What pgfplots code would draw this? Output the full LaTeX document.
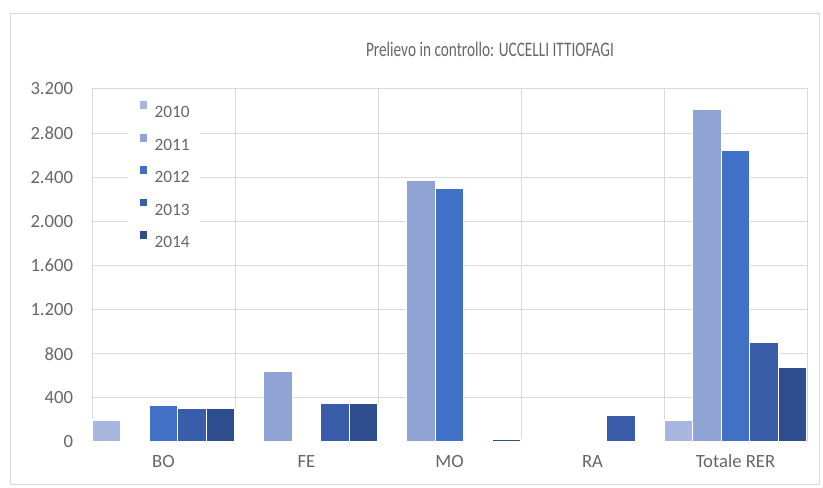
\documentclass[border=0pt]{standalone}
\usepackage{pgfplots}
\pgfplotsset{compat=1.18}
\usepackage{fontspec}
\setmainfont{Carlito}
\newfontfamily\titlefont[FakeStretch=0.74]{Carlito}
\definecolor{txt}{HTML}{666666}
\definecolor{gridc}{HTML}{D9D9D9}
\definecolor{cA}{HTML}{A9B6DF}
\definecolor{cB}{HTML}{8FA3D5}
\definecolor{cC}{HTML}{4171C6}
\definecolor{cD}{HTML}{3A5DA9}
\definecolor{cE}{HTML}{2E4D8E}
\begin{document}
\begin{tikzpicture}
\path (0,0) rectangle (617.25pt,366pt);
\draw[gridc, line width=0.75pt] (7.5pt,2.25pt) rectangle (614.25pt,355.5pt);
\node[anchor=base, font=\titlefont\fontsize{15.5}{15.5}\selectfont, text=txt] at (367.5pt,323.25pt) {Prelievo in controllo: UCCELLI ITTIOFAGI};
\begin{axis}[
  at={(69pt,34.5pt)}, anchor=south west, scale only axis,
  width=536.25pt, height=264.75pt,
  xmin=-0.5, xmax=4.5, ymin=0, ymax=3200,
  ybar=0pt, bar width=0.2,
  xtick={0,1,2,3,4}, xticklabels={BO,FE,MO,RA,Totale RER},
  minor xtick={0.5,1.5,2.5,3.5}, xminorgrids, ymajorgrids,
  ytick={0,400,...,3200},
  major tick length=0pt, minor tick length=0pt,
  axis line style={gridc, line width=0.75pt},
  major grid style={gridc, line width=0.75pt},
  minor grid style={gridc, line width=0.75pt},
  tick label style={font=\fontsize{14}{14}\selectfont, text=txt},
  /pgf/number format/.cd, 1000 sep={.}, assume math mode=true, /pgfplots/.cd,
  yticklabel style={anchor=east, inner sep=0pt, xshift=-14pt},
  xticklabel style={anchor=base, inner sep=0pt, yshift=-19.5pt},
  legend image code/.code={\fill[#1] (0pt,1.1pt) rectangle (6.75pt,7.85pt);},
  legend style={at={(0.0503,0.992)}, anchor=north west, draw=none, fill=white,
    font=\fontsize{13}{13}\selectfont, text=txt,
    inner xsep=7.5pt, inner ysep=6pt, row sep=11pt, column sep=4.5pt,
    nodes={inner sep=0pt, text height=10pt, text depth=0pt}},
  legend cell align=left,
]
\addplot[fill=cA, draw=white, line width=1pt] coordinates {(0,200) (1,0) (2,0) (3,0) (4,200)};
\addplot[fill=cB, draw=white, line width=1pt] coordinates {(0,0) (1,640) (2,2375) (3,0) (4,3016)};
\addplot[fill=cC, draw=white, line width=1pt] coordinates {(0,330) (1,10) (2,2297) (3,0) (4,2641)};
\addplot[fill=cD, draw=white, line width=1pt] coordinates {(0,308) (1,350) (2,0) (3,245) (4,904)};
\addplot[fill=cE, draw=white, line width=1pt] coordinates {(0,308) (1,347) (2,22) (3,0) (4,677)};
\legend{2010,2011,2012,2013,2014}
\end{axis}
\end{tikzpicture}
\end{document}
